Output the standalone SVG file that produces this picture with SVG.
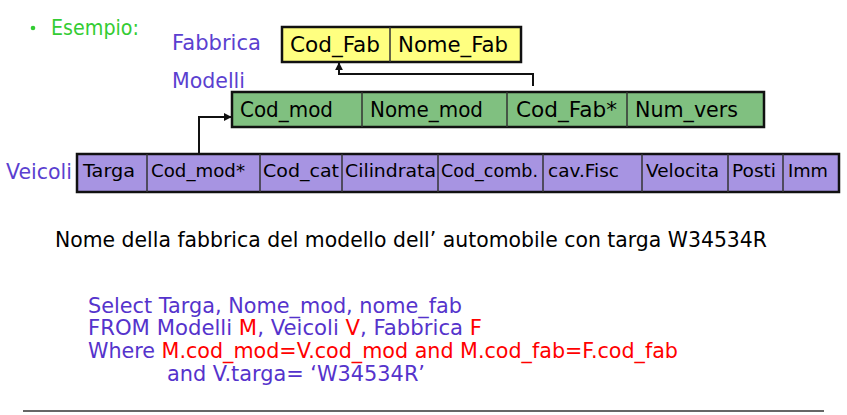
<svg xmlns="http://www.w3.org/2000/svg" width="847" height="415" viewBox="0 0 847 415">
<defs>
<style>
text{font-family:"DejaVu Sans","Liberation Sans",sans-serif;}
.lbl{fill:#5B3FD0;font-size:22px;}
.cell{fill:#000;font-size:21px;}
.vcell{fill:#000;font-size:18px;}
.blue{fill:#5533CC;font-size:21px;}
.r{fill:#FF0000;}
.box{stroke:#111;stroke-width:2.5;}
.div{stroke:#333;stroke-width:1.5;}
.conn{fill:none;stroke:#111;stroke-width:2;}
</style>
<marker id="ah" viewBox="0 0 10 10" refX="9" refY="5" markerWidth="4" markerHeight="4" orient="auto">
<path d="M0,0 L10,5 L0,10 z" fill="#111"/>
</marker>
</defs>
<rect width="847" height="415" fill="#fff"/>

<g id="esempio">
<circle cx="33" cy="28" r="2.3" fill="#33CC33"/>
<text x="51" y="35" font-size="21" fill="#33CC33" textLength="88" lengthAdjust="spacingAndGlyphs">Esempio:</text>
</g>

<g id="fabbrica">
<text class="lbl" x="172" y="50" textLength="89" lengthAdjust="spacingAndGlyphs">Fabbrica</text>
<rect class="box" x="282" y="27" width="239" height="35" fill="#FFFF80"/>
<line class="div" x1="390" y1="27" x2="390" y2="62"/>
<text class="cell" x="290" y="52" textLength="90" lengthAdjust="spacingAndGlyphs">Cod_Fab</text>
<text class="cell" x="398" y="52" textLength="110" lengthAdjust="spacingAndGlyphs">Nome_Fab</text>
</g>

<g id="modelli">
<text class="lbl" x="172" y="88" textLength="73" lengthAdjust="spacingAndGlyphs">Modelli</text>
<rect class="box" x="232" y="92" width="532" height="35" fill="#80C080"/>
<line class="div" x1="362" y1="92" x2="362" y2="127"/>
<line class="div" x1="507" y1="92" x2="507" y2="127"/>
<line class="div" x1="627" y1="92" x2="627" y2="127"/>
<text class="cell" x="240" y="117" textLength="93" lengthAdjust="spacingAndGlyphs">Cod_mod</text>
<text class="cell" x="370" y="117" textLength="113" lengthAdjust="spacingAndGlyphs">Nome_mod</text>
<text class="cell" x="516" y="117" textLength="101" lengthAdjust="spacingAndGlyphs">Cod_Fab*</text>
<text class="cell" x="635" y="117" textLength="103" lengthAdjust="spacingAndGlyphs">Num_vers</text>
</g>

<g id="veicoli">
<text class="lbl" x="6" y="179" textLength="66" lengthAdjust="spacingAndGlyphs">Veicoli</text>
<rect class="box" x="77" y="154" width="762" height="38" fill="#A794E2"/>
<line class="div" x1="147" y1="154" x2="147" y2="192"/>
<line class="div" x1="260" y1="154" x2="260" y2="192"/>
<line class="div" x1="342" y1="154" x2="342" y2="192"/>
<line class="div" x1="438" y1="154" x2="438" y2="192"/>
<line class="div" x1="543" y1="154" x2="543" y2="192"/>
<line class="div" x1="642" y1="154" x2="642" y2="192"/>
<line class="div" x1="728" y1="154" x2="728" y2="192"/>
<line class="div" x1="783" y1="154" x2="783" y2="192"/>
<text class="vcell" x="83" y="177" textLength="52" lengthAdjust="spacingAndGlyphs">Targa</text>
<text class="vcell" x="151" y="177" textLength="94" lengthAdjust="spacingAndGlyphs">Cod_mod*</text>
<text class="vcell" x="263" y="177" textLength="76" lengthAdjust="spacingAndGlyphs">Cod_cat</text>
<text class="vcell" x="345" y="177" textLength="91" lengthAdjust="spacingAndGlyphs">Cilindrata</text>
<text class="vcell" x="441" y="177" textLength="97" lengthAdjust="spacingAndGlyphs">Cod_comb.</text>
<text class="vcell" x="548" y="177" textLength="71" lengthAdjust="spacingAndGlyphs">cav.Fisc</text>
<text class="vcell" x="646" y="177" textLength="73" lengthAdjust="spacingAndGlyphs">Velocita</text>
<text class="vcell" x="732" y="177" textLength="44" lengthAdjust="spacingAndGlyphs">Posti</text>
<text class="vcell" x="788" y="177" textLength="40" lengthAdjust="spacingAndGlyphs">Imm</text>
</g>

<g id="connectors">
<polyline class="conn" points="533,86 533,74 339,74 339,63" marker-end="url(#ah)"/>
<polyline class="conn" points="199,154 199,117 231,117" marker-end="url(#ah)"/>
</g>

<g id="question">
<text x="55" y="247" font-size="21" fill="#000" textLength="712" lengthAdjust="spacingAndGlyphs">Nome della fabbrica del modello dell’ automobile con targa W34534R</text>
</g>

<g id="sql">
<text class="blue" x="88" y="313" textLength="374" lengthAdjust="spacingAndGlyphs">Select Targa, Nome_mod, nome_fab</text>
<text class="blue" x="88" y="335" textLength="394" lengthAdjust="spacingAndGlyphs">FROM Modelli <tspan class="r">M</tspan>, Veicoli <tspan class="r">V</tspan>, Fabbrica <tspan class="r">F</tspan></text>
<text class="blue" x="88" y="358" textLength="590" lengthAdjust="spacingAndGlyphs">Where <tspan class="r">M.cod_mod=V.cod_mod and M.cod_fab=F.cod_fab</tspan></text>
<text class="blue" x="167" y="381" textLength="258" lengthAdjust="spacingAndGlyphs">and V.targa=  ‘W34534R’</text>
</g>

<line x1="23" y1="411" x2="824" y2="411" stroke="#666" stroke-width="2"/>
</svg>
